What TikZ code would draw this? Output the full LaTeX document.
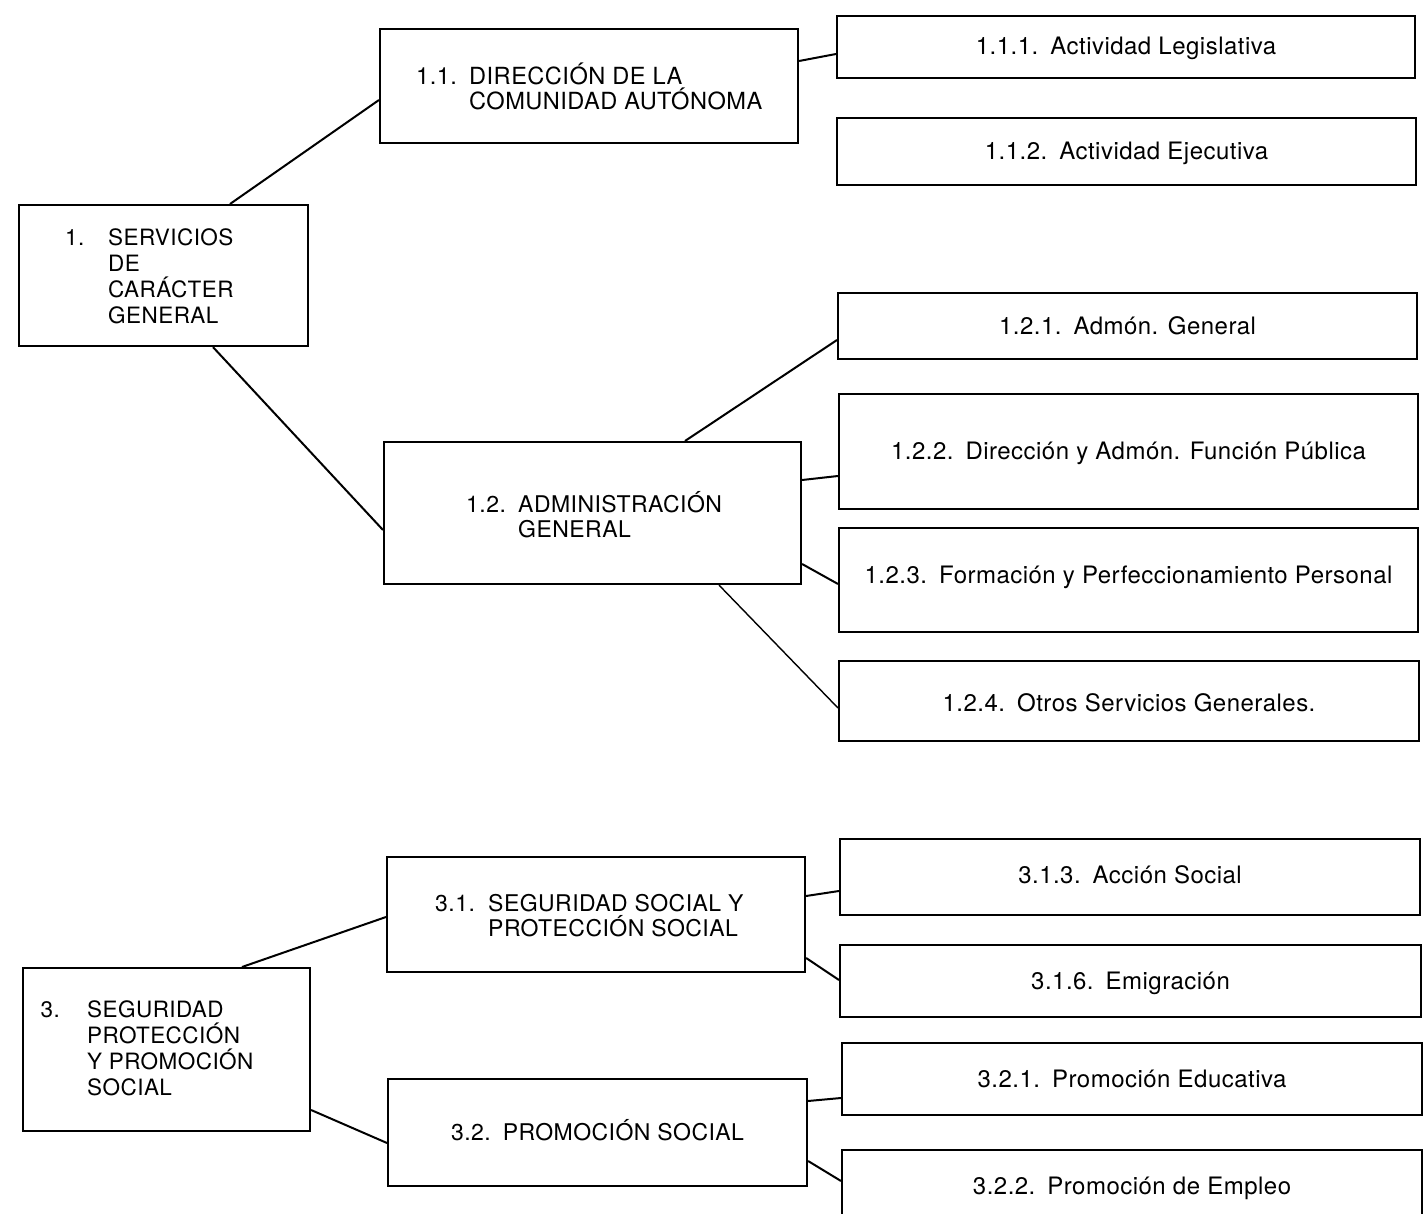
\documentclass[tikz,border=0pt]{standalone}
\usepackage{fontspec}
\setmainfont[LetterSpace=2]{TeX Gyre Heros}
\newcommand\gapsp{\hspace{12pt}}
\newcommand\stackl[1]{\vtop{\lineskiplimit=-100pt\relax\halign{##\hfil\cr#1\crcr}}}
\tikzset{
  box/.style={draw, line width=2.1pt, inner sep=0pt, anchor=north west,
    font=\fontsize{24}{26}\selectfont, text height=16.5pt, text depth=0pt},
  lbl/.style={inner sep=0pt, anchor=base west},
  link/.style={line width=2pt},
}
\begin{document}
\begin{tikzpicture}[x=1pt,y=-1pt]
\useasboundingbox (0,0) rectangle (1428,1214);
\fill[white] (0,0) rectangle (1428,1214);

% level 1
\node[box, minimum width=289pt, minimum height=141pt] (b1) at (18,204) {};
\node[box, minimum width=287pt, minimum height=163pt] (b3) at (22,967) {};
% level 2
\node[box, minimum width=418pt, minimum height=114pt] (b11) at (379,28) {};
\node[box, minimum width=417pt, minimum height=142pt] (b12) at (383,441) {};
\node[box, minimum width=418pt, minimum height=115pt] (b31) at (386,856) {};
\node[box, minimum width=419pt, minimum height=107pt, font=\fontsize{23}{26}\selectfont] (b32) at (387,1078) {3.2.\gapsp PROMOCIÓN SOCIAL};
% level 3
\node[box, minimum width=578pt, minimum height=62pt, text depth=2pt] (b111) at (836,15) {1.1.1.\gapsp Actividad Legislativa};
\node[box, minimum width=579pt, minimum height=67pt] (b112) at (836,117) {1.1.2.\gapsp Actividad Ejecutiva};
\node[box, minimum width=579pt, minimum height=66pt] (b121) at (837,292) {1.2.1.\gapsp Admón. General};
\node[box, minimum width=579pt, minimum height=115pt] (b122) at (838,393) {1.2.2.\gapsp Dirección y Admón. Función Pública};
\node[box, minimum width=579pt, minimum height=104pt, text depth=10pt] (b123) at (838,527) {1.2.3.\gapsp Formación y Perfeccionamiento Personal};
\node[box, minimum width=580pt, minimum height=80pt, text height=20.5pt] (b124) at (838,660) {1.2.4.\gapsp Otros Servicios Generales.};
\node[box, minimum width=580pt, minimum height=76pt, text depth=4pt] (b313) at (839,838) {3.1.3.\gapsp Acción Social};
\node[box, minimum width=581pt, minimum height=72pt] (b316) at (839,944) {3.1.6.\gapsp Emigración};
\node[box, minimum width=580pt, minimum height=72pt] (b321) at (841,1042) {3.2.1.\gapsp Promoción Educativa};
\node[box, minimum width=580pt, minimum height=73pt] (b322) at (841,1149) {3.2.2.\gapsp Promoción de Empleo};

% multi-line labels
\node[lbl, font=\fontsize{22.5}{26}\selectfont] (t1n) at (65,245.5) {1.};
\node[lbl, font=\fontsize{22.5}{26}\selectfont] (t1) at (108,245.5) {\stackl{SERVICIOS\cr DE\cr CARÁCTER\cr GENERAL}};
\node[lbl, font=\fontsize{23.6}{25}\selectfont] (t11n) at (416,85) {1.1.};
\node[lbl, font=\fontsize{23.6}{25}\selectfont] (t11) at (469,85) {\stackl{DIRECCIÓN DE LA\cr COMUNIDAD AUTÓNOMA}};
\node[lbl, font=\fontsize{23}{25}\selectfont] (t12n) at (466,512) {1.2.};
\node[lbl, font=\fontsize{23}{25}\selectfont] (t12) at (518,512) {\stackl{ADMINISTRACIÓN\cr GENERAL}};
\node[lbl, font=\fontsize{22.5}{26}\selectfont] (t3n) at (40.5,1017) {3.};
\node[lbl, font=\fontsize{22.5}{26}\selectfont] (t3) at (87,1017) {\stackl{SEGURIDAD\cr PROTECCIÓN\cr Y PROMOCIÓN\cr SOCIAL}};
\node[lbl, font=\fontsize{23}{25}\selectfont] (t31n) at (435,911) {3.1.};
\node[lbl, font=\fontsize{23}{25}\selectfont] (t31) at (488,911) {\stackl{SEGURIDAD SOCIAL Y\cr PROTECCIÓN SOCIAL}};

% connectors
\draw[link] ([xshift=212pt]b1.north west) -- ([yshift=-72pt]b11.north west);
\draw[link] ([xshift=195pt]b1.south west) -- ([yshift=-89pt]b12.north west);
\draw[link] ([yshift=-33pt]b11.north east) -- ([yshift=-39pt]b111.north west);
\draw[link] ([xshift=302pt]b12.north west) -- ([yshift=-48pt]b121.north west);
\draw[link] ([yshift=-39pt]b12.north east) -- ([yshift=-83pt]b122.north west);
\draw[link] ([yshift=-123pt]b12.north east) -- ([yshift=-57pt]b123.north west);
\draw[link, line width=1.4pt] ([xshift=336pt]b12.south west) -- ([yshift=-48pt]b124.north west);
\draw[link] ([xshift=220pt]b3.north west) -- ([yshift=-61pt]b31.north west);
\draw[link] ([yshift=-143pt]b3.north east) -- ([yshift=-65pt]b32.north west);
\draw[link] ([yshift=-40pt]b31.north east) -- ([yshift=-53pt]b313.north west);
\draw[link] ([yshift=-102pt]b31.north east) -- ([yshift=-36pt]b316.north west);
\draw[link] ([yshift=-23pt]b32.north east) -- ([yshift=-56pt]b321.north west);
\draw[link] ([yshift=-83pt]b32.north east) -- ([yshift=-32pt]b322.north west);
\end{tikzpicture}
\end{document}
